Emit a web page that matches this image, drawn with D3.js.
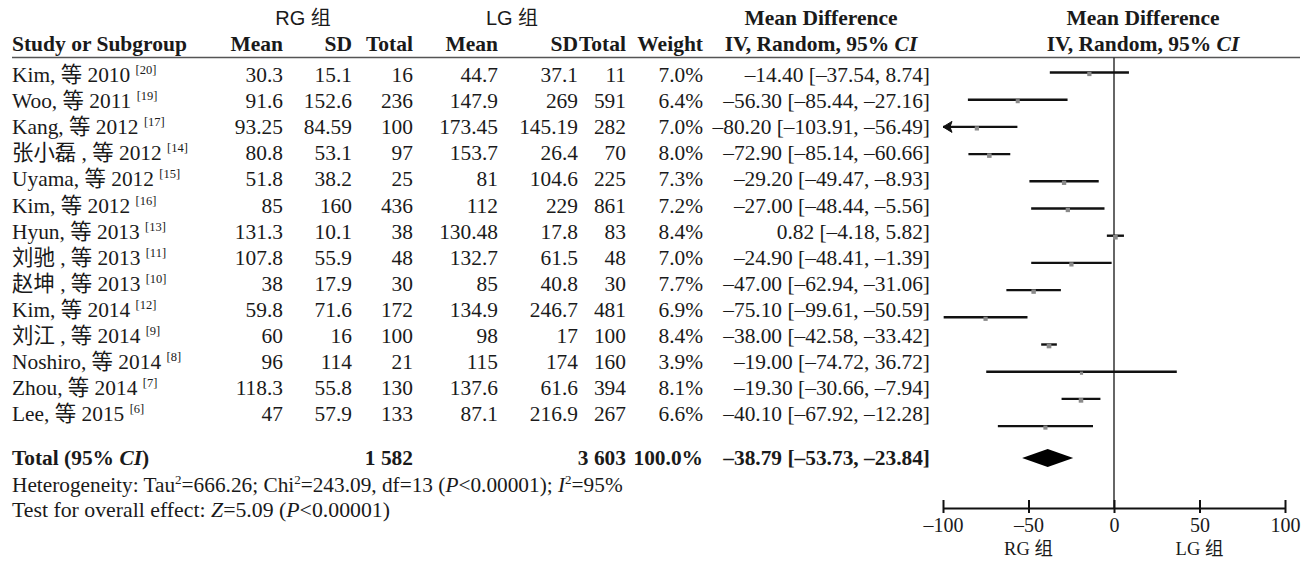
<!DOCTYPE html>
<html>
<head>
<meta charset="utf-8">
<script src="https://cdn.jsdelivr.net/npm/d3@7"></script>
<style>
  html, body { margin: 0; padding: 0; background: #fff; }
  svg { display: block; }
  .serif { font-family: "Liberation Serif", "Times New Roman", "Noto Sans CJK SC", serif; fill: #1a1a1a; }
  .sans  { font-family: "Liberation Sans", Arial, "Noto Sans CJK SC", sans-serif; fill: #1a1a1a; }
</style>
</head>
<body>
<svg id="chart" width="1312" height="562"></svg>
<script>
// Study rows: RG group vs LG group, mean difference (IV, random effects)
const studies = ["Kim, 等 2010", "Woo, 等 2011", "Kang, 等 2012", "张小磊 , 等 2012", "Uyama, 等 2012",
  "Kim, 等 2012", "Hyun, 等 2013", "刘驰 , 等 2013", "赵坤 , 等 2013", "Kim, 等 2014",
  "刘江 , 等 2014", "Noshiro, 等 2014", "Zhou, 等 2014", "Lee, 等 2015"];
const refs = [20, 19, 17, 14, 15, 16, 13, 11, 10, 12, 9, 8, 7, 6];

const rgMean  = [30.3, 91.6, 93.25, 80.8, 51.8, 85, 131.3, 107.8, 38, 59.8, 60, 96, 118.3, 47];
const rgSD    = [15.1, 152.6, 84.59, 53.1, 38.2, 160, 10.1, 55.9, 17.9, 71.6, 16, 114, 55.8, 57.9];
const rgTotal = [16, 236, 100, 97, 25, 436, 38, 48, 30, 172, 100, 21, 130, 133];

const lgMean  = [44.7, 147.9, 173.45, 153.7, 81, 112, 130.48, 132.7, 85, 134.9, 98, 115, 137.6, 87.1];
const lgSD    = [37.1, 269, 145.19, 26.4, 104.6, 229, 17.8, 61.5, 40.8, 246.7, 17, 174, 61.6, 216.9];
const lgTotal = [11, 591, 282, 70, 225, 861, 83, 48, 30, 481, 100, 160, 394, 267];

const weight = [7.0, 6.4, 7.0, 8.0, 7.3, 7.2, 8.4, 7.0, 7.7, 6.9, 8.4, 3.9, 8.1, 6.6];
const md     = [-14.40, -56.30, -80.20, -72.90, -29.20, -27.00, 0.82, -24.90, -47.00, -75.10, -38.00, -19.00, -19.30, -40.10];
const ciLow  = [-37.54, -85.44, -103.91, -85.14, -49.47, -48.44, -4.18, -48.41, -62.94, -99.61, -42.58, -74.72, -30.66, -67.92];
const ciHigh = [8.74, -27.16, -56.49, -60.66, -8.93, -5.56, 5.82, -1.39, -31.06, -50.59, -33.42, 36.72, -7.94, -12.28];

// Pooled result
const totalRG = 1582;
const totalLG = 3603;
const totalWeight = 100.0;
const pooledMD = -38.79;
const pooledLow = -53.73;
const pooledHigh = -23.84;

const axisTicks = [-100, -50, 0, 50, 100];
const favourLabels = ["RG 组", "LG 组"];

const svg = d3.select("#chart");

// ---- scales ----
const x = d3.scaleLinear().domain([-100, 100]).range([943, 1285]);
const rowKeys = studies.map((d, i) => "s" + i);
// table text rows and forest rows
const yText = d3.scalePoint().domain(rowKeys).range([75, 75 + 26.1 * (rowKeys.length - 1)]);
const yPlot = d3.scalePoint().domain(rowKeys).range([72.5, 72.5 + 27.2 * (rowKeys.length - 1)]);
const totalY = 458;
const axisY = 508;

const col = { name: 12, rgMean: 283, rgSD: 352, rgTotal: 413, lgMean: 498, lgSD: 578, lgTotal: 626, weight: 703, ci: 930 };
const FS = 21.4;         // table font size
const base = v => v + 7; // baseline from row centre

const dash = v => (v < 0 ? "–" : "") + Math.abs(v).toFixed(2);
const thin = v => d3.format(",")(v).replace(/,/g, " ");
const ciText = (m, lo, hi) => `${dash(m)} [${dash(lo)}, ${dash(hi)}]`;

// ---- header ----
const head = svg.append("g");
head.append("text").attr("class", "sans").attr("x", 303).attr("y", 25).attr("text-anchor", "middle")
  .attr("font-size", 20).text("RG 组");
head.append("text").attr("class", "sans").attr("x", 512).attr("y", 25).attr("text-anchor", "middle")
  .attr("font-size", 20).text("LG 组");

function mdHeader(cx) {
  head.append("text").attr("class", "serif").attr("x", cx).attr("y", 25).attr("text-anchor", "middle")
    .attr("font-size", 21.5).attr("font-weight", "bold").text("Mean Difference");
  const t = head.append("text").attr("class", "serif").attr("x", cx).attr("y", 51).attr("text-anchor", "middle")
    .attr("font-size", 21.5).attr("font-weight", "bold");
  t.append("tspan").text("IV, Random, 95% ");
  t.append("tspan").attr("font-style", "italic").text("CI");
}
mdHeader(821);
mdHeader(1143);

const hdr2 = [
  ["Study or Subgroup", col.name, "start"],
  ["Mean", col.rgMean, "end"], ["SD", col.rgSD, "end"], ["Total", col.rgTotal, "end"],
  ["Mean", col.lgMean, "end"], ["SD", col.lgSD, "end"], ["Total", col.lgTotal, "end"],
  ["Weight", col.weight, "end"]
];
head.selectAll("text.h2").data(hdr2).join("text")
  .attr("class", "serif h2").attr("x", d => d[1]).attr("y", 51).attr("text-anchor", d => d[2])
  .attr("font-size", 21.5).attr("font-weight", "bold").text(d => d[0]);

svg.append("line").attr("x1", 12).attr("x2", 1300).attr("y1", 57.5).attr("y2", 57.5)
  .attr("stroke", "#555").attr("stroke-width", 1.3);

// ---- study rows ----
const rows = svg.append("g").selectAll("g").data(studies).join("g")
  .attr("transform", (d, i) => `translate(0,${base(yText("s" + i))})`);

const nameText = rows.append("text").attr("class", "serif").attr("x", col.name).attr("font-size", FS);
nameText.append("tspan").text(d => d + " ");
nameText.append("tspan").attr("font-size", 12.5).attr("dy", -8).text((d, i) => `[${refs[i]}]`);

const numCols = [
  [rgMean, col.rgMean], [rgSD, col.rgSD], [rgTotal, col.rgTotal],
  [lgMean, col.lgMean], [lgSD, col.lgSD], [lgTotal, col.lgTotal]
];
numCols.forEach(([arr, cx]) => {
  rows.append("text").attr("class", "serif").attr("x", cx).attr("text-anchor", "end")
    .attr("font-size", FS).text((d, i) => String(arr[i]));
});
rows.append("text").attr("class", "serif").attr("x", col.weight).attr("text-anchor", "end")
  .attr("font-size", FS).text((d, i) => weight[i].toFixed(1) + "%");
rows.append("text").attr("class", "serif").attr("x", col.ci).attr("text-anchor", "end")
  .attr("font-size", FS).text((d, i) => ciText(md[i], ciLow[i], ciHigh[i]));

// ---- total row ----
const ty = base(totalY);
const tot = svg.append("g").attr("font-weight", "bold").attr("font-size", FS);
const tl = tot.append("text").attr("class", "serif").attr("x", col.name).attr("y", ty);
tl.append("tspan").text("Total (95% ");
tl.append("tspan").attr("font-style", "italic").text("CI");
tl.append("tspan").text(")");
tot.append("text").attr("class", "serif").attr("x", col.rgTotal).attr("y", ty).attr("text-anchor", "end").text(thin(totalRG));
tot.append("text").attr("class", "serif").attr("x", col.lgTotal).attr("y", ty).attr("text-anchor", "end").text(thin(totalLG));
tot.append("text").attr("class", "serif").attr("x", col.weight).attr("y", ty).attr("text-anchor", "end").text(totalWeight.toFixed(1) + "%");
tot.append("text").attr("class", "serif").attr("x", col.ci).attr("y", ty).attr("text-anchor", "end")
  .text(ciText(pooledMD, pooledLow, pooledHigh));

// ---- heterogeneity / overall effect ----
const het = svg.append("text").attr("class", "serif").attr("x", col.name).attr("y", base(485)).attr("font-size", 21.3);
het.append("tspan").text("Heterogeneity: Tau");
het.append("tspan").attr("font-size", 13).attr("dy", -8).text("2");
het.append("tspan").attr("dy", 8).text("=666.26; Chi");
het.append("tspan").attr("font-size", 13).attr("dy", -8).text("2");
het.append("tspan").attr("dy", 8).text("=243.09, df=13 (");
het.append("tspan").attr("font-style", "italic").text("P");
het.append("tspan").text("<0.00001); ");
het.append("tspan").attr("font-style", "italic").text("I");
het.append("tspan").attr("font-size", 13).attr("dy", -8).text("2");
het.append("tspan").attr("dy", 8).text("=95%");

const eff = svg.append("text").attr("class", "serif").attr("x", col.name).attr("y", base(510)).attr("font-size", 21.8);
eff.append("tspan").text("Test for overall effect: ");
eff.append("tspan").attr("font-style", "italic").text("Z");
eff.append("tspan").text("=5.09 (");
eff.append("tspan").attr("font-style", "italic").text("P");
eff.append("tspan").text("<0.00001)");

// ---- forest plot ----
const plot = svg.append("g");

plot.append("line").attr("x1", x(0)).attr("x2", x(0)).attr("y1", 57.5).attr("y2", axisY)
  .attr("stroke", "#333").attr("stroke-width", 1.5);

const [xmin, xmax] = x.domain();
const ciRows = plot.selectAll("g.ci").data(studies).join("g").attr("class", "ci");
ciRows.append("line")
  .attr("x1", (d, i) => x(Math.max(ciLow[i], xmin)))
  .attr("x2", (d, i) => x(Math.min(ciHigh[i], xmax)))
  .attr("y1", (d, i) => yPlot("s" + i)).attr("y2", (d, i) => yPlot("s" + i))
  .attr("stroke", "#111").attr("stroke-width", 2.4);

// arrows where the interval runs past the axis range
ciRows.filter((d, i) => ciLow[i] < xmin).append("path")
  .attr("d", d => {
    const yy = yPlot("s" + studies.indexOf(d)), x0 = x(xmin);
    return `M${x0},${yy} L${x0 + 9},${yy - 5.5} L${x0 + 7},${yy} L${x0 + 9},${yy + 5.5} Z`;
  })
  .attr("fill", "#111").attr("stroke", "#111").attr("stroke-width", 1);

ciRows.append("rect")
  .attr("width", (d, i) => Math.sqrt(weight[i]) * 1.6)
  .attr("height", (d, i) => Math.sqrt(weight[i]) * 1.6)
  .attr("x", (d, i) => x(md[i]) - Math.sqrt(weight[i]) * 0.8)
  .attr("y", (d, i) => yPlot("s" + i) - Math.sqrt(weight[i]) * 0.8 + 1.5)
  .attr("fill", "#8a8a8a");

// pooled diamond
plot.append("path")
  .attr("d", `M${x(pooledLow)},${totalY} L${x(pooledMD)},${totalY - 9} L${x(pooledHigh)},${totalY} L${x(pooledMD)},${totalY + 9} Z`)
  .attr("fill", "#000");

// axis
const axis = d3.axisBottom(x).tickValues(axisTicks).tickSize(0).tickPadding(10)
  .tickFormat(v => (v < 0 ? "–" : "") + Math.abs(v));
const ag = plot.append("g").attr("transform", `translate(0,${axisY})`).call(axis);
ag.select(".domain").attr("stroke", "#111").attr("stroke-width", 2.2);
ag.selectAll(".tick line").attr("y1", -8).attr("y2", 5).attr("stroke", "#111").attr("stroke-width", 2);
ag.selectAll(".tick text").attr("class", "serif").attr("font-size", 20).attr("fill", "#1a1a1a");

plot.selectAll("text.fav").data(favourLabels).join("text")
  .attr("class", "serif fav").attr("font-size", 18.5).attr("text-anchor", "middle")
  .attr("x", (d, i) => x(i === 0 ? -50 : 50)).attr("y", 555).text(d => d);
</script>
</body>
</html>
